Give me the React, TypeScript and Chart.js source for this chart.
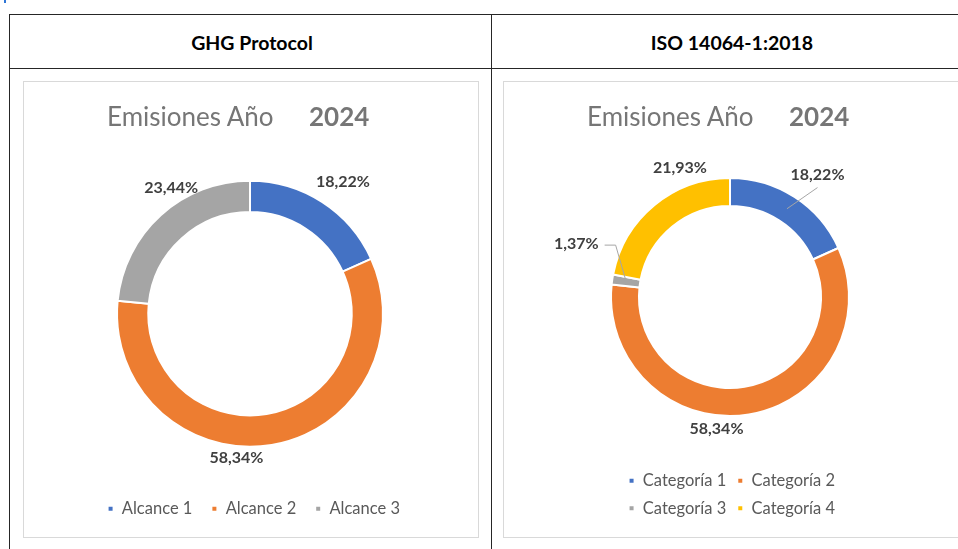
import React, { useEffect, useRef } from "react";
import { Chart, registerables } from "chart.js";

Chart.register(...registerables);

// ---------- data ----------
const tableHeaders = ["GHG Protocol", "ISO 14064-1:2018"];
const chartTitle = "Emisiones Año";
const chartYear = "2024";

const ghgCategories = ["Alcance 1", "Alcance 2", "Alcance 3"];
const ghgValues = [18.22, 58.34, 23.44];
const ghgColors = ["#4472C4", "#ED7D31", "#A5A5A5"];

const isoCategories = ["Categoría 1", "Categoría 2", "Categoría 3", "Categoría 4"];
const isoValues = [18.22, 58.34, 1.37, 21.93];
const isoColors = ["#4472C4", "#ED7D31", "#A5A5A5", "#FFC000"];

// ---------- label placement tweaks (relative nudges from the default outside-end spot) ----------
type Leader = null | "bottom" | "right";
type LabelCfg = { size: number; gap: number; shift: [number, number][]; leader: Leader[] };

const ghgLabelCfg: LabelCfg = {
  size: 16,
  gap: 8,
  shift: [[2, -7], [-41, -3], [34, -16]],
  leader: [null, null, null],
};
const isoLabelCfg: LabelCfg = {
  size: 16,
  gap: 8,
  shift: [[4, -9], [-38, -1], [-6, -33], [48, -25]],
  leader: ["bottom", null, "right", null],
};

const FONT = "Lato, 'Open Sans', sans-serif";

const fmt = (v: number) => v.toFixed(2).replace(".", ",") + "%";

function makeLabelPlugin(cfg: LabelCfg) {
  return {
    id: "outsideLabels",
    afterDatasetsDraw(chart: any) {
      const { ctx } = chart;
      const meta = chart.getDatasetMeta(0);
      const data = chart.data.datasets[0].data as number[];
      ctx.save();
      ctx.font = `bold ${cfg.size}px ${FONT}`;
      ctx.textAlign = "center";
      ctx.textBaseline = "middle";
      meta.data.forEach((arc: any, i: number) => {
        const p = arc.getProps(["x", "y", "startAngle", "endAngle", "outerRadius", "innerRadius"], true);
        const mid = (p.startAngle + p.endAngle) / 2;
        const ux = Math.cos(mid);
        const uy = Math.sin(mid);
        const text = fmt(data[i]);
        const w = ctx.measureText(text).width;
        const h = cfg.size;
        const r = p.outerRadius + cfg.gap;
        const [dx, dy] = cfg.shift[i] || [0, 0];
        const tx = p.x + ux * r + (ux * w) / 2 + dx;
        const ty = p.y + uy * r + (uy * h) / 2 + dy;
        const lead = cfg.leader[i];
        if (lead) {
          const rm = (p.outerRadius + p.innerRadius) / 2;
          const ex = p.x + ux * rm;
          const ey = p.y + uy * rm;
          ctx.strokeStyle = "#A6A6A6";
          ctx.lineWidth = 1;
          ctx.beginPath();
          if (lead === "bottom") {
            ctx.moveTo(tx, ty + h / 2 + 5);
            ctx.lineTo(ex, ey);
          } else {
            const sx = tx + w / 2 + 6;
            ctx.moveTo(sx, ty + 1);
            ctx.lineTo(sx + 11, ty + 1);
            ctx.lineTo(ex, ey);
          }
          ctx.stroke();
        }
        ctx.fillStyle = "#404040";
        ctx.fillText(text, tx, ty);
      });
      ctx.restore();
    },
  };
}

type DonutProps = {
  labels: string[];
  values: number[];
  colors: string[];
  radius: number;
  padding: { top: number; bottom: number; left: number; right: number };
  legendPad: number;
  labelCfg: LabelCfg;
};

function Donut({ labels, values, colors, radius, padding, legendPad, labelCfg }: DonutProps) {
  const ref = useRef<HTMLCanvasElement>(null);
  useEffect(() => {
    const chart = new Chart(ref.current as HTMLCanvasElement, {
      type: "doughnut",
      data: {
        labels,
        datasets: [
          {
            data: values,
            backgroundColor: colors,
            borderColor: "#FFFFFF",
            borderWidth: 2,
            hoverOffset: 0,
          },
        ],
      },
      options: {
        animation: false,
        responsive: false,
        maintainAspectRatio: false,
        radius,
        cutout: "76.5%",
        layout: { padding },
        plugins: {
          legend: {
            position: "bottom",
            align: "end",
            labels: {
              boxWidth: 6,
              boxHeight: 6,
              padding: legendPad,
              color: "#595959",
              font: { family: FONT, size: 16.5 },
            },
          },
          tooltip: { enabled: false },
          title: { display: false },
        },
      } as any,
      plugins: [makeLabelPlugin(labelCfg)],
    });
    return () => chart.destroy();
  }, []);
  return <canvas ref={ref} width={454} height={455} style={{ position: "absolute", left: 0, top: 0 }} />;
}

function ChartFrame({ left, children }: { left: number; children: React.ReactNode }) {
  return (
    <div
      style={{
        position: "absolute",
        left,
        top: 81,
        width: 456,
        height: 457,
        border: "1px solid #D9D9D9",
        boxSizing: "border-box",
        background: "#fff",
      }}
    >
      {children}
      <span
        style={{
          position: "absolute",
          left: 83,
          top: 21,
          font: `26px ${FONT}`,
          lineHeight: "26px",
          color: "#767676",
          whiteSpace: "pre",
        }}
      >
        {chartTitle}
      </span>
      <span
        style={{
          position: "absolute",
          left: 285,
          top: 21,
          font: `bold 26px ${FONT}`,
          lineHeight: "26px",
          color: "#767676",
          whiteSpace: "pre",
        }}
      >
        {chartYear}
      </span>
    </div>
  );
}

const LINE = "#262626";

export default function App() {
  useEffect(() => {
    document.body.style.margin = "0";
  }, []);
  return (
    <div
      style={{
        position: "relative",
        width: 958,
        height: 549,
        overflow: "hidden",
        background: "#fff",
        fontFamily: FONT,
      }}
    >
      <div style={{ position: "absolute", left: 4, top: 0, width: 2, height: 3, background: "#2E75D6" }} />
      {/* table lines */}
      <div style={{ position: "absolute", left: 9, top: 14, width: 960, height: 1.4, background: LINE }} />
      <div style={{ position: "absolute", left: 9, top: 68, width: 960, height: 1.4, background: LINE }} />
      <div style={{ position: "absolute", left: 9, top: 14, width: 1.4, height: 540, background: LINE }} />
      <div style={{ position: "absolute", left: 490.5, top: 14, width: 1.4, height: 540, background: LINE }} />
      {/* headers */}
      <div
        style={{
          position: "absolute",
          left: 152,
          top: 33,
          width: 200,
          textAlign: "center",
          font: `bold 19.5px ${FONT}`,
          lineHeight: "19.5px",
          color: "#000",
        }}
      >
        {tableHeaders[0]}
      </div>
      <div
        style={{
          position: "absolute",
          left: 632,
          top: 33,
          width: 200,
          textAlign: "center",
          font: `bold 19.5px ${FONT}`,
          lineHeight: "19.5px",
          color: "#000",
        }}
      >
        {tableHeaders[1]}
      </div>
      <ChartFrame left={23}>
        <Donut
          labels={ghgCategories}
          values={ghgValues}
          colors={ghgColors}
          radius={133}
          padding={{ top: 64, bottom: 10, left: 57, right: 59 }}
          legendPad={19}
          labelCfg={ghgLabelCfg}
        />
      </ChartFrame>
      <ChartFrame left={503}>
        <Donut
          labels={isoCategories}
          values={isoValues}
          colors={isoColors}
          radius={119}
          padding={{ top: 50.5, bottom: 10.5, left: 110, right: 112 }}
          legendPad={11}
          labelCfg={isoLabelCfg}
        />
      </ChartFrame>
    </div>
  );
}
